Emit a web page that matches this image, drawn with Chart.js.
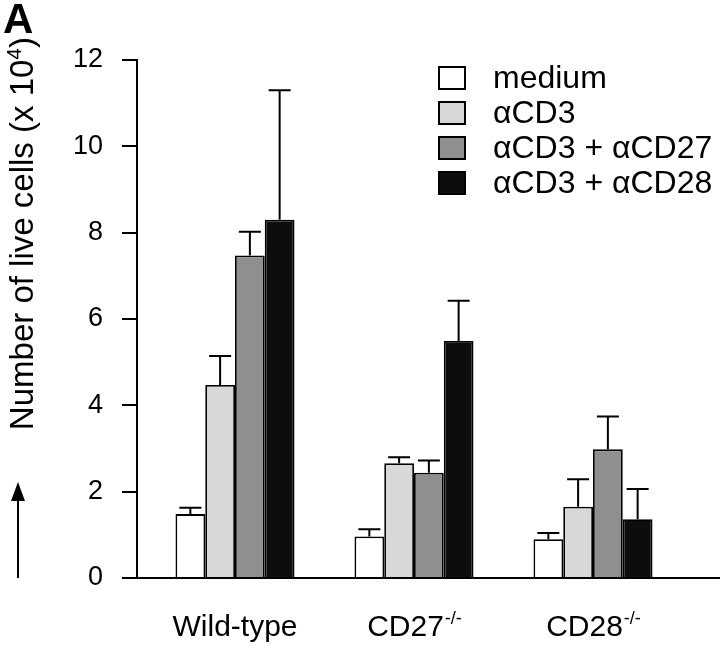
<!DOCTYPE html>
<html>
<head>
<meta charset="utf-8">
<script src="https://cdn.jsdelivr.net/npm/chart.js@4.4.1/dist/chart.umd.min.js"></script>
<style>
body { margin: 0; background: #fff; }
canvas { display: block; }
</style>
</head>
<body>
<canvas id="grafica" width="720" height="646"></canvas>
<script>
var grupos = ['Wild-type', 'CD27', 'CD28'];
var superindices = ['', '-/-', '-/-'];
var series = ['medium', 'αCD3', 'αCD3 + αCD27', 'αCD3 + αCD28'];
var medium = [1.48, 0.96, 0.90];
var cd3 = [4.47, 2.66, 1.65];
var cd3cd27 = [7.47, 2.44, 2.98];
var cd3cd28 = [8.30, 5.49, 1.36];
var errMedium = [0.15, 0.17, 0.14];
var errCd3 = [0.67, 0.14, 0.64];
var errCd3cd27 = [0.55, 0.28, 0.76];
var errCd3cd28 = [3.00, 0.93, 0.70];
var yTicks = [0, 2, 4, 6, 8, 10, 12];
var tituloY = 'Number of live cells (x 10';
var exponenteY = '4';
var panel = 'A';

var fuente = '"Liberation Sans", Arial, Helvetica, sans-serif';
var colores = ['#ffffff', '#d8d8d8', '#8f8f8f', '#0d0d0d'];
var valores = [medium, cd3, cd3cd27, cd3cd28];
var errores = [errMedium, errCd3, errCd3cd27, errCd3cd28];

Chart.defaults.font.family = fuente;
Chart.defaults.color = '#000';

function puntos(vals) {
    return vals.map(function(v, i) { return { x: i, y: v }; });
}

var errorBars = {
    id: 'errorBars',
    afterDatasetsDraw: function(chart) {
        var ctx = chart.ctx;
        var yScale = chart.scales.y;
        ctx.save();
        ctx.strokeStyle = '#000';
        ctx.lineWidth = 2;
        chart.data.datasets.forEach(function(ds, i) {
            var meta = chart.getDatasetMeta(i);
            meta.data.forEach(function(bar, j) {
                var top = yScale.getPixelForValue(valores[i][j] + errores[i][j]);
                ctx.beginPath();
                ctx.moveTo(bar.x, bar.y);
                ctx.lineTo(bar.x, top);
                ctx.moveTo(bar.x - 11, top);
                ctx.lineTo(bar.x + 11, top);
                ctx.stroke();
            });
        });
        ctx.restore();
    }
};

var textos = {
    id: 'textos',
    afterDraw: function(chart) {
        var ctx = chart.ctx;
        var area = chart.chartArea;
        ctx.save();
        ctx.fillStyle = '#000';
        ctx.textBaseline = 'alphabetic';
        ctx.textAlign = 'left';

        // letra del panel
        ctx.font = 'bold 42px ' + fuente;
        ctx.fillText(panel, 3, 33);

        // titulo del eje y, girado
        ctx.font = '33px ' + fuente;
        var w1 = ctx.measureText(tituloY).width;
        ctx.font = '21px ' + fuente;
        var w2 = ctx.measureText(exponenteY).width;
        ctx.font = '33px ' + fuente;
        var w3 = ctx.measureText(')').width;
        ctx.save();
        ctx.translate(33, 37 + w1 + w2 + w3);
        ctx.rotate(-Math.PI / 2);
        ctx.fillText(tituloY, 0, 0);
        ctx.font = '21px ' + fuente;
        ctx.fillText(exponenteY, w1, -12);
        ctx.font = '33px ' + fuente;
        ctx.fillText(')', w1 + w2, 0);
        ctx.restore();

        // flecha
        ctx.strokeStyle = '#000';
        ctx.lineWidth = 2;
        ctx.beginPath();
        ctx.moveTo(18, area.bottom);
        ctx.lineTo(18, 495);
        ctx.stroke();
        ctx.beginPath();
        ctx.moveTo(18, 482);
        ctx.lineTo(11, 501);
        ctx.lineTo(25, 501);
        ctx.closePath();
        ctx.fill();

        // etiquetas del eje x con superindice
        grupos.forEach(function(g, i) {
            var x = chart.scales.x.getPixelForValue(i);
            ctx.font = '30px ' + fuente;
            var a = ctx.measureText(g).width;
            ctx.font = '18px ' + fuente;
            var b = superindices[i] ? ctx.measureText(superindices[i]).width : 0;
            var x0 = x - (a + b) / 2;
            ctx.font = '30px ' + fuente;
            ctx.fillText(g, x0, area.bottom + 58);
            if (superindices[i]) {
                ctx.font = '18px ' + fuente;
                ctx.fillText(superindices[i], x0 + a + 1, area.bottom + 46);
            }
        });

        // leyenda
        series.forEach(function(s, i) {
            var y = 78 + 35 * i;
            ctx.fillStyle = colores[i];
            ctx.fillRect(439, y - 11, 26, 22);
            ctx.strokeStyle = '#000';
            ctx.lineWidth = 2;
            ctx.strokeRect(439, y - 11, 26, 22);
            ctx.fillStyle = '#000';
            ctx.font = '32px ' + fuente;
            ctx.textBaseline = 'middle';
            ctx.fillText(s, 493, y + 1);
        });
        ctx.restore();
    }
};

var datasets = series.map(function(s, i) {
    return {
        label: s,
        data: puntos(valores[i]),
        backgroundColor: colores[i],
        borderColor: '#000',
        borderWidth: 1.8,
        categoryPercentage: 0.665,
        barPercentage: 1
    };
});

var grafica = new Chart(document.getElementById('grafica').getContext('2d'), {
    type: 'bar',
    data: { datasets: datasets },
    plugins: [errorBars, textos],
    options: {
        responsive: false,
        animation: false,
        layout: { padding: { top: 60, right: 0, bottom: 0, left: 0 } },
        plugins: {
            legend: { display: false },
            tooltip: { enabled: false }
        },
        scales: {
            x: {
                type: 'linear',
                offset: false,
                min: -0.5475,
                max: 2.7095,
                afterBuildTicks: function(s) {
                    s.ticks = grupos.map(function(g, i) { return { value: i }; });
                },
                afterFit: function(s) { s.height = 68; },
                ticks: { display: false },
                grid: { offset: false, drawOnChartArea: false, drawTicks: false, color: 'rgba(0,0,0,0)' },
                border: { color: '#000', width: 2 }
            },
            y: {
                min: yTicks[0],
                max: yTicks[yTicks.length - 1],
                afterBuildTicks: function(s) {
                    s.ticks = yTicks.map(function(v) { return { value: v }; });
                },
                afterFit: function(s) { s.width = 137; },
                ticks: { padding: 19, color: '#000', font: { size: 27 } },
                grid: { drawOnChartArea: false, tickLength: 15, color: '#000', lineWidth: 2 },
                border: { color: '#000', width: 2 }
            }
        }
    }
});
</script>
</body>
</html>
